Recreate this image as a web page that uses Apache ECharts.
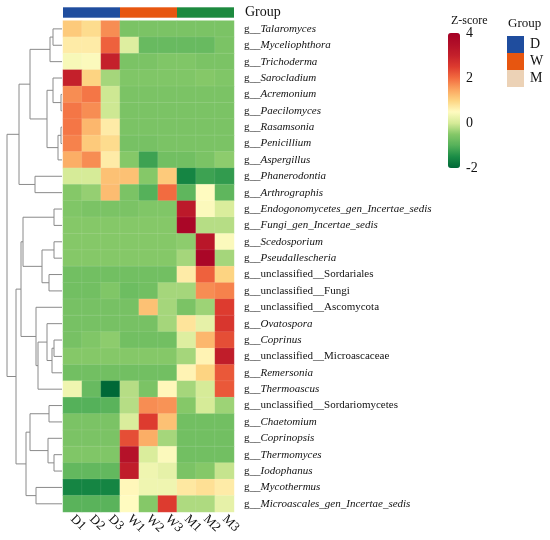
<!DOCTYPE html>
<html>
<head>
<meta charset="utf-8">
<script src="https://cdn.jsdelivr.net/npm/echarts@6/dist/echarts.min.js"></script>
<style>
  html, body { margin: 0; padding: 0; background: #fff; }
  #chart { width: 550px; height: 540px; }
</style>
</head>
<body>
<div id="chart"></div>
<script>
// samples and their groups
const samples = ["D1", "D2", "D3", "W1", "W2", "W3", "M1", "M2", "M3"];
const sampleGroup = ["D", "D", "D", "W", "W", "W", "M", "M", "M"];
const groups = ["D", "W", "M"];

const genera = [
  "g__Talaromyces", "g__Myceliophthora", "g__Trichoderma", "g__Sarocladium",
  "g__Acremonium", "g__Paecilomyces", "g__Rasamsonia", "g__Penicillium",
  "g__Aspergillus", "g__Phanerodontia", "g__Arthrographis",
  "g__Endogonomycetes_gen_Incertae_sedis", "g__Fungi_gen_Incertae_sedis",
  "g__Scedosporium", "g__Pseudallescheria", "g__unclassified__Sordariales",
  "g__unclassified__Fungi", "g__unclassified__Ascomycota", "g__Ovatospora",
  "g__Coprinus", "g__unclassified__Microascaceae", "g__Remersonia",
  "g__Thermoascus", "g__unclassified__Sordariomycetes", "g__Chaetomium",
  "g__Coprinopsis", "g__Thermomyces", "g__Iodophanus", "g__Mycothermus",
  "g__Microascales_gen_Incertae_sedis"
];

// z-scores, one row per genus, columns in sample order
const zscore = [
  [1.1, 0.9, 1.7, -0.6, -0.6, -0.6, -0.6, -0.6, -0.6],
  [0.7, 0.7, 2.1, 0.1, -0.8, -0.8, -0.8, -0.8, -0.6],
  [0.4, 0.45, 3.0, -0.6, -0.6, -0.55, -0.55, -0.6, -0.6],
  [3.0, 1.0, -0.3, -0.55, -0.55, -0.55, -0.55, -0.5, -0.55],
  [1.7, 1.9, -0.05, -0.6, -0.6, -0.6, -0.6, -0.6, -0.6],
  [1.9, 1.7, -0.05, -0.6, -0.6, -0.6, -0.6, -0.6, -0.6],
  [1.9, 1.3, 0.7, -0.6, -0.6, -0.6, -0.6, -0.6, -0.6],
  [1.8, 1.1, 0.9, -0.65, -0.65, -0.6, -0.6, -0.6, -0.6],
  [1.4, 1.7, 0.7, -0.5, -1.2, -0.7, -0.7, -0.6, -0.45],
  [0.0, 0.0, 1.2, 1.2, -0.5, 1.1, -1.6, -1.2, -1.3],
  [-0.5, -0.4, 1.25, -0.6, -1.0, 2.0, -0.9, 0.5, -0.9],
  [-0.55, -0.6, -0.6, -0.6, -0.55, -0.55, 3.2, 0.45, 0.05],
  [-0.5, -0.5, -0.5, -0.5, -0.5, -0.5, 3.8, -0.2, -0.2],
  [-0.5, -0.5, -0.5, -0.5, -0.5, -0.5, -0.45, 3.3, 0.45],
  [-0.5, -0.5, -0.5, -0.5, -0.5, -0.5, -0.3, 3.8, -0.3],
  [-0.7, -0.7, -0.7, -0.7, -0.7, -0.7, 0.7, 2.1, 1.0],
  [-0.7, -0.7, -0.55, -0.75, -0.7, -0.3, -0.3, 1.7, 1.8],
  [-0.65, -0.65, -0.65, -0.65, 1.2, -0.3, -0.6, -0.35, 2.5],
  [-0.65, -0.65, -0.65, -0.65, -0.65, -0.3, 0.8, 0.2, 2.6],
  [-0.65, -0.55, -0.45, -0.7, -0.7, -0.7, 0.1, 1.3, 2.3],
  [-0.5, -0.5, -0.5, -0.5, -0.5, -0.5, -0.3, 0.6, 3.1],
  [-0.7, -0.7, -0.7, -0.7, -0.7, -0.7, 0.6, 1.0, 2.2],
  [0.3, -0.8, -2.0, -0.2, -0.6, 0.55, -0.3, 0.0, 2.2],
  [-1.0, -1.0, -0.95, -0.2, 1.7, 1.65, -0.5, 0.0, -0.35],
  [-0.6, -0.6, -0.6, 0.05, 2.5, 1.2, -0.7, -0.7, -0.7],
  [-0.6, -0.6, -0.6, 2.3, 1.4, -0.3, -0.7, -0.7, -0.7],
  [-0.55, -0.55, -0.55, 3.4, 0.05, 0.45, -0.7, -0.7, -0.7],
  [-0.85, -0.85, -0.85, 3.1, 0.3, 0.2, -0.6, -0.5, -0.1],
  [-1.6, -1.6, -1.6, 0.55, 0.3, 0.3, 0.75, 0.85, 0.7],
  [-0.95, -0.95, -0.95, 0.5, -0.5, 2.5, -0.25, -0.25, 0.2]
];

// row dendrogram: [mergeHeight, left, right], leaves are row indexes
const rowTree = [55,
  [43,
    [32, [12, [9, 0, 1], 2], [15, [9, 3, [1, 4, 5]], [4, [1, 6, 7], 8]]],
    [27, 9, 10]],
  [46,
    [41,
      [39, [8, 11, 12], [20, [8, 13, 14], [13, 15, 16]]],
      [26, 17, [24, [15, 18, [10, [8, 19, 20], 21]], 22]]],
    [36,
      [32, [13, 23, 24], [14, 25, [8, 26, 27]]],
      [26, 28, 29]]]
];

const groupColors = { D: "#1f4d9e", W: "#e75610", M: "#1d8a3f" };
const legendColors = { D: "#1f4d9e", W: "#e75610", M: "#ecd2b6" };
const zColors = [
  "#006837", "#1a8c46", "#55b15a", "#85c868", "#d6eb98", "#fffbc0", "#fdd482",
  "#fba45f", "#f26b40", "#dd3b2f", "#c4202b", "#b10f28", "#a50026"
];

const font = "Liberation Serif";

// walk the tree, collect elbow segments
const dendroLines = [];
function walk(node) {
  if (typeof node === "number") return { y: node + 0.5, h: 0 };
  const l = walk(node[1]);
  const r = walk(node[2]);
  dendroLines.push({ coords: [[l.h, l.y], [node[0], l.y], [node[0], r.y], [r.h, r.y]] });
  return { y: (l.y + r.y) / 2, h: node[0] };
}
walk(rowTree);

const heatData = [];
zscore.forEach((row, i) => row.forEach((v, j) => heatData.push([j, i, v])));

const gridTop = 20.7, gridH = 491.3, gridL = 63, gridW = 171;

const chart = echarts.init(document.getElementById("chart"), null, { renderer: "canvas" });

chart.setOption({
  animation: false,
  textStyle: { fontFamily: font },
  title: [
    { text: "Group", left: 240, top: 0, textStyle: { fontFamily: font, fontSize: 14, fontWeight: "normal", color: "#111" } },
    { text: "Z-score", left: 446, top: 10, textStyle: { fontFamily: font, fontSize: 12, fontWeight: "normal", color: "#111" } },
    { text: "Group", left: 503, top: 12, textStyle: { fontFamily: font, fontSize: 13, fontWeight: "normal", color: "#111" } }
  ],
  legend: {
    orient: "vertical",
    left: 507,
    top: 36,
    padding: 0,
    itemGap: 0,
    itemWidth: 17,
    itemHeight: 17,
    icon: "rect",
    selectedMode: false,
    textStyle: { fontFamily: font, fontSize: 14, color: "#111", padding: [0, 0, 0, 1] },
    data: groups.map(g => ({ name: g, itemStyle: { color: legendColors[g] } }))
  },
  visualMap: {
    type: "continuous",
    seriesIndex: 0,
    min: -2,
    max: 4,
    calculable: false,
    left: 448,
    top: 33,
    padding: 0,
    itemWidth: 12,
    itemHeight: 135,
    text: null,
    inRange: { color: zColors }
  },
  grid: [
    { left: gridL, top: gridTop, width: gridW, height: gridH },
    { left: gridL, top: 7.3, width: gridW, height: 10.4 },
    { left: 7, top: gridTop, width: 55, height: gridH },
    { left: 448, top: 33, width: 12, height: 135 }
  ],
  xAxis: [
    {
      type: "category", gridIndex: 0, data: samples,
      axisLine: { show: false }, axisTick: { show: false },
      axisLabel: { interval: 0, rotate: -45, margin: 5, fontFamily: font, fontSize: 13, color: "#111" }
    },
    { type: "category", gridIndex: 1, data: samples, show: false },
    { type: "value", gridIndex: 2, min: 0, max: 55, inverse: true, show: false },
    { type: "value", gridIndex: 3, min: 0, max: 1, show: false }
  ],
  yAxis: [
    {
      type: "category", gridIndex: 0, data: genera, inverse: true, position: "right",
      axisLine: { show: false }, axisTick: { show: false },
      axisLabel: {
        interval: 0,
        margin: 10,
        formatter: function (s) {
          const rest = s.slice(3);
          if (rest.indexOf("unclassified") === 0) return "{n|" + s + "}";
          return "{n|g__}{i|" + rest + "}";
        },
        rich: {
          n: { fontFamily: font, fontSize: 11, color: "#111" },
          i: { fontFamily: font, fontSize: 11, fontStyle: "italic", color: "#111" }
        }
      }
    },
    { type: "value", gridIndex: 1, min: 0, max: 1, show: false },
    { type: "value", gridIndex: 2, min: 0, max: genera.length, inverse: true, show: false },
    {
      type: "value", gridIndex: 3, min: -2, max: 4, interval: 2, position: "right",
      axisLine: { show: false }, axisTick: { show: false }, splitLine: { show: false },
      axisLabel: { margin: 6, fontFamily: font, fontSize: 14, color: "#111" }
    }
  ],
  series: [
    {
      type: "heatmap",
      xAxisIndex: 0, yAxisIndex: 0,
      data: heatData,
      itemStyle: { borderColor: "rgba(255,255,255,0.18)", borderWidth: 0.5 }
    },
    ...groups.map(g => ({
      name: g,
      type: "bar",
      xAxisIndex: 1, yAxisIndex: 1,
      stack: "grp",
      barWidth: "100%",
      itemStyle: { color: groupColors[g] },
      data: sampleGroup.map(sg => (sg === g ? 1 : "-"))
    })),
    {
      type: "lines",
      coordinateSystem: "cartesian2d",
      xAxisIndex: 2, yAxisIndex: 2,
      polyline: true,
      silent: true,
      lineStyle: { color: "#8a8a8a", width: 1, opacity: 1 },
      data: dendroLines
    },
    { type: "scatter", xAxisIndex: 3, yAxisIndex: 3, data: [], silent: true }
  ]
});
</script>
</body>
</html>
